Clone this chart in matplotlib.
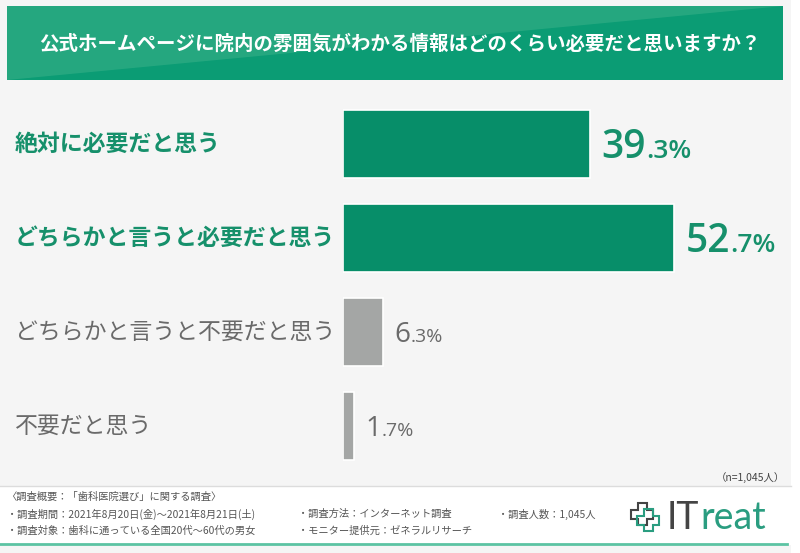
import matplotlib.pyplot as plt
from matplotlib.patches import Rectangle, Polygon
from matplotlib.lines import Line2D
from matplotlib.transforms import offset_copy

plt.rcParams['font.family'] = ['Noto Sans CJK JP', 'DejaVu Sans']

# ---- data ----
title = '公式ホームページに院内の雰囲気がわかる情報はどのくらい必要だと思いますか？'
categories = ['絶対に必要だと思う', 'どちらかと言うと必要だと思う',
              'どちらかと言うと不要だと思う', '不要だと思う']
values = [39.3, 52.7, 6.3, 1.7]
highlight = [True, True, False, False]
n_note = '（n=1,045人）'
footer_lines = [
    [(7, '〈調査概要：「歯科医院選び」に関する調査〉')],
    [(7, '・調査期間：2021年8月20日(金)～2021年8月21日(土)'),
     (298, '・調査方法：インターネット調査'),
     (498, '・調査人数：1,045人')],
    [(7, '・調査対象：歯科に通っている全国20代～60代の男女'),
     (298, '・モニター提供元：ゼネラルリサーチ')],
]

green = '#078e69'
green_txt = '#16906b'
gray = '#a4a6a5'
gray_txt = '#6a6a6a'
W, H = 800, 553

fig = plt.figure(figsize=(8, 5.53), dpi=100)
fig.patch.set_facecolor('#f5f5f5')
renderer = fig.canvas.get_renderer()


def px(x, y):
    # pixel coords (top-left origin) -> figure fraction
    return x / W, 1 - y / H


# right white strip
fig.patches.append(Rectangle(px(791, H), 9 / W, 1, transform=fig.transFigure,
                             facecolor='white', edgecolor='none', zorder=0))

# ---- title banner ----
bx0, by0 = px(7, 80)
fig.patches.append(Rectangle((bx0, by0), 776 / W, 74 / H, transform=fig.transFigure,
                             facecolor='#0b9c74', edgecolor='none', zorder=1))
fig.patches.append(Polygon([px(7, 6), px(783, 6), px(7, 80)], closed=True,
                           transform=fig.transFigure, facecolor='#2aaa82',
                           edgecolor='none', zorder=1, alpha=0.85))
fig.text(*px(400, 44), title, color='white', fontsize=14, fontweight='bold',
         ha='center', va='center', zorder=3)

# ---- bars ----
ax_left, ax_top, ax_bottom = 343, 97, 473
ax = fig.add_axes([ax_left / W, 1 - ax_bottom / H, 440 / W, (ax_bottom - ax_top) / H])
ax.set_facecolor('none')
ypos = list(range(len(categories)))
colors = [green if h else gray for h in highlight]
ax.barh(ypos, values, height=0.725, color=colors, edgecolor='white', linewidth=1.2)
ax.set_xlim(0, 440 / 6.28)
ax.set_ylim(3.5, -0.5)
ax.axis('off')

for i, (cat, v, h) in enumerate(zip(categories, values, highlight)):
    tc = green_txt if h else gray_txt
    # category label at left of figure
    yfig = ax.transData.transform((0, i))[1]
    fig.text(15 / W, fig.transFigure.inverted().transform((0, yfig))[1], cat,
             color=tc, fontsize=16.5, fontweight='bold' if h else 'normal',
             ha='left', va='center')
    # value label: big integer part + small decimal part on one baseline
    whole, dec = f'{v:.1f}'.split('.')
    big = 28 if h else 20
    small = 19 if h else 14
    wt = 'semibold' if h else 'normal'
    dy = -0.5 * 0.72 * big * 100 / 72
    t1 = ax.text(v, i, whole, color=tc, fontsize=big, family='Open Sans',
                 fontweight=wt, ha='left', va='baseline',
                 transform=offset_copy(ax.transData, fig=fig, x=12, y=dy, units='dots'))
    wpx = t1.get_window_extent(renderer).width
    ax.text(v, i, '.' + dec + '%', color=tc, fontsize=small, family='Open Sans',
            fontweight=wt, ha='left', va='baseline',
            transform=offset_copy(ax.transData, fig=fig, x=12 + wpx, y=dy, units='dots'))

# ---- footer ----
fig.text(*px(785, 478), n_note, fontsize=7.5, color='#444444', ha='right', va='center')
fig.patches.append(Rectangle(px(0, 545), 791 / W, 59 / H, transform=fig.transFigure,
                             facecolor='white', edgecolor='none', zorder=1))
fig.lines.append(Line2D([0, 791 / W], [1 - 486 / H] * 2, transform=fig.transFigure,
                        color='#dcdcdc', linewidth=1, zorder=2))
fig.lines.append(Line2D([0, 787 / W], [1 - 544 / H] * 2, transform=fig.transFigure,
                        color='#5cc3a3', linewidth=2, zorder=2))
for row, line in zip([497, 514, 531], footer_lines):
    for x, s in line:
        fig.text(*px(x, row), s, fontsize=7.4, color='#555555', ha='left',
                 va='center', zorder=3)


# ---- logo ----
def cross(cx, cy, arm, thick):
    a, t = arm, thick
    pts = [(-t, -a), (t, -a), (t, -t), (a, -t), (a, t), (t, t), (t, a), (-t, a),
           (-t, t), (-a, t), (-a, -t), (-t, -t)]
    return [px(cx + x, cy + y) for x, y in pts]


fig.patches.append(Polygon(cross(642, 514, 11, 4.5), closed=True, transform=fig.transFigure,
                           facecolor='none', edgecolor='#444444', linewidth=1.5, zorder=3))
fig.patches.append(Polygon(cross(648, 520, 11, 4.5), closed=True, transform=fig.transFigure,
                           facecolor='none', edgecolor='#2a9d80', linewidth=1.5, zorder=3))
t_it = fig.text(*px(667, 518), 'IT', fontsize=27, color='#444444', family='Lato',
                ha='left', va='center', zorder=3)
fig.add_artist(plt.Annotation('reat', xy=(1, 0), xycoords=t_it, xytext=(0.5, 0),
                              textcoords='offset points', fontsize=27, color='#2a9d80',
                              family='Lato', ha='left', va='bottom', zorder=3))

fig.savefig('out.png', dpi=100, facecolor=fig.get_facecolor())
